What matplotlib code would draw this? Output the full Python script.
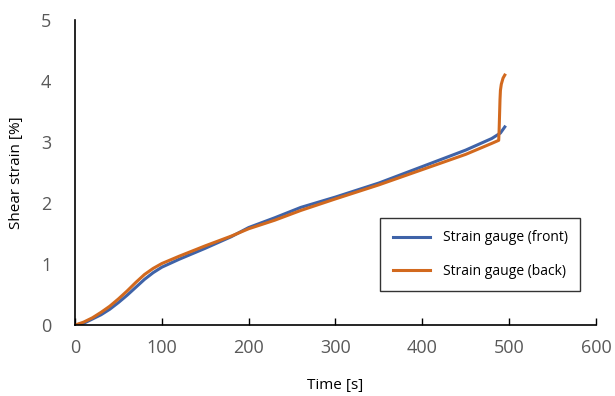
import numpy as np
import matplotlib.pyplot as plt

plt.rcParams['font.family'] = ['Open Sans', 'DejaVu Sans']

# time [s] and shear strain [%]
t_front = [0, 10, 20, 30, 40, 50, 60, 70, 80, 90, 100, 120, 150, 180, 200, 230, 260, 300,
           350, 400, 450, 480, 490, 495]
s_front = [0, 0.03, 0.1, 0.17, 0.26, 0.37, 0.49, 0.62, 0.75, 0.86, 0.95, 1.08, 1.26, 1.45,
           1.6, 1.76, 1.93, 2.1, 2.33, 2.6, 2.87, 3.06, 3.15, 3.25]
t_back = [0, 10, 20, 30, 40, 50, 60, 70, 80, 90, 100, 120, 150, 180, 200, 230, 260, 300,
          350, 400, 450, 480, 488, 488.5, 489, 489.5, 490, 491, 493, 495]
s_back = [0, 0.05, 0.12, 0.21, 0.31, 0.43, 0.56, 0.7, 0.83, 0.93, 1.01, 1.13, 1.3, 1.46,
          1.58, 1.72, 1.88, 2.07, 2.3, 2.55, 2.8, 2.98, 3.03, 3.2, 3.45, 3.7, 3.85, 3.95, 4.05, 4.1]

fig = plt.figure(figsize=(6.15, 3.96), dpi=100)
ax = fig.add_axes([0.122, 0.179, 0.847, 0.77])

ax.plot(t_front, s_front, color='#3F63A8', linewidth=2.2, label='Strain gauge (front)')
ax.plot(t_back, s_back, color='#D2691E', linewidth=2.2, label='Strain gauge (back)')

ax.set_xlim(0, 600)
ax.set_ylim(0, 5)
ax.set_xticks(np.arange(0, 601, 100))
ax.set_yticks(np.arange(0, 6, 1))
for sp in ['top', 'right']:
    ax.spines[sp].set_visible(False)
ax.spines['left'].set_linewidth(1.2)
ax.spines['bottom'].set_linewidth(1.2)
ax.tick_params(axis='x', direction='in', length=5, width=1, colors='black', labelcolor='#595959',
               labelsize=13, pad=10)
ax.tick_params(axis='y', length=0, labelcolor='#595959', labelsize=13, pad=17)

ax.set_xlabel('Time [s]', fontsize=11, labelpad=15)
ax.set_ylabel('Shear strain [%]', fontsize=11, labelpad=12)

leg = ax.legend(loc='lower right', bbox_to_anchor=(0.983, 0.089), fontsize=10, frameon=True,
                fancybox=False, edgecolor='black', handlelength=2.7, labelspacing=1.3,
                borderpad=0.9, handletextpad=0.9)
leg.get_frame().set_linewidth(1.0)

fig.savefig('out.png', dpi=100)
